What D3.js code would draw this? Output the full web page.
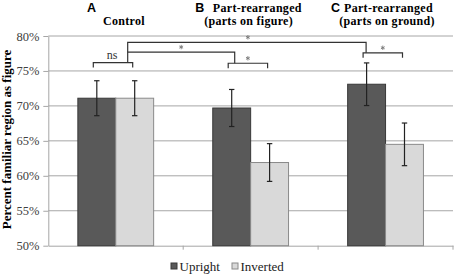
<!DOCTYPE html>
<html>
<head>
<meta charset="utf-8">
<script src="https://cdn.jsdelivr.net/npm/d3@7"></script>
<style>
  html, body { margin: 0; padding: 0; background: #fff; }
  svg { display: block; }
</style>
</head>
<body>
<svg id="chart" width="454" height="276"></svg>
<script>
// ---- Data ----
const categories = ["A", "B", "C"];
const series = ["Upright", "Inverted"];
const upright = [71.1, 69.7, 73.1];
const uprightErr = [2.5, 2.65, 3.05];
const inverted = [71.1, 61.9, 64.5];
const invertedErr = [2.5, 2.7, 3.05];
const yTicks = [50, 55, 60, 65, 70, 75, 80];
const titleLetters = ["A", "B", "C"];
const titleLine1 = ["", "Part-rearranged", "Part-rearranged"];
const titleLine2 = ["Control", "(parts on figure)", "(parts on ground)"];
const yLabel = "Percent familiar region as figure";

// ---- Layout ----
const svg = d3.select("#chart");
const mLeft = 48.3, mRight = 453, mTop = 36, mBottom = 245.7;
const SERIF = '"Liberation Serif", "Times New Roman", serif';
const SANS = '"Liberation Sans", Arial, sans-serif';

const x0 = d3.scaleBand().domain(categories).range([mLeft, mRight]).paddingInner(0).paddingOuter(0);
const x1 = d3.scaleBand().domain(series).range([0, x0.bandwidth()]).paddingInner(0).paddingOuter(0.78);
const y = d3.scaleLinear().domain([50, 80]).range([mBottom, mTop]);

const colors = { Upright: "#595959", Inverted: "#d9d9d9" };
const strokes = { Upright: "#383838", Inverted: "#8a8a8a" };

// gridlines
svg.append("g").selectAll("line").data(yTicks.filter(d => d > 50)).join("line")
  .attr("x1", mLeft).attr("x2", mRight)
  .attr("y1", d => y(d)).attr("y2", d => y(d))
  .attr("stroke", "#a6a6a6").attr("stroke-width", 1);

// y axis
const yAxis = d3.axisLeft(y).tickValues(yTicks).tickFormat(d => d + "%").tickSize(5).tickSizeOuter(0);
const gy = svg.append("g").attr("transform", `translate(${mLeft},0)`).call(yAxis);
gy.select(".domain").attr("stroke", "#a6a6a6");
gy.selectAll(".tick line").attr("stroke", "#a6a6a6");
gy.selectAll(".tick text").style("font-family", SERIF).style("font-size", "12.5px")
  .attr("fill", "#404040").attr("x", -9);

// x axis
const xAxis = d3.axisBottom(x0).tickValues([]).tickSizeOuter(0);
const gx = svg.append("g").attr("transform", `translate(0,${mBottom})`).call(xAxis);
gx.select(".domain").attr("stroke", "#a6a6a6");
svg.append("g").selectAll("line").data(categories).join("line")
  .attr("x1", d => x0(d) + x0.bandwidth()).attr("x2", d => x0(d) + x0.bandwidth())
  .attr("y1", mBottom).attr("y2", mBottom + 4)
  .attr("stroke", "#a6a6a6");

// bars
const rows = [];
categories.forEach((c, i) => {
  rows.push({ cat: c, s: "Upright", v: upright[i], e: uprightErr[i] });
  rows.push({ cat: c, s: "Inverted", v: inverted[i], e: invertedErr[i] });
});
const cx = d => x0(d.cat) + x1(d.s) + x1.bandwidth() / 2;

svg.append("g").selectAll("rect").data(rows).join("rect")
  .attr("x", d => x0(d.cat) + x1(d.s))
  .attr("y", d => y(d.v))
  .attr("width", x1.bandwidth())
  .attr("height", d => y(50) - y(d.v))
  .attr("fill", d => colors[d.s])
  .attr("stroke", d => strokes[d.s]).attr("stroke-width", 1);

// error bars
const eg = svg.append("g").attr("stroke", "#222").attr("stroke-width", 1.2);
rows.forEach(d => {
  const x = cx(d);
  eg.append("line").attr("x1", x).attr("x2", x).attr("y1", y(d.v + d.e)).attr("y2", y(d.v - d.e));
  eg.append("line").attr("x1", x - 2.7).attr("x2", x + 2.7).attr("y1", y(d.v + d.e)).attr("y2", y(d.v + d.e));
  eg.append("line").attr("x1", x - 2.7).attr("x2", x + 2.7).attr("y1", y(d.v - d.e)).attr("y2", y(d.v - d.e));
});

// significance brackets
const bg = svg.append("g").attr("stroke", "#333").attr("stroke-width", 1.2).attr("fill", "none");
const barC = (cat, s) => x0(cat) + x1(s) + x1.bandwidth() / 2;
function bracket(cat, level, tick) {
  const x1p = barC(cat, "Upright") - 3.5, x2p = barC(cat, "Inverted") - 2;
  const yy = y(level);
  bg.append("path").attr("d", `M${x1p},${yy + tick}V${yy}H${x2p}V${yy + tick}`);
  return { x1: x1p, x2: x2p, y: yy };
}
const bA = bracket("A", 76.2, 5);
const bB = bracket("B", 76.1, 5);
const bC = bracket("C", 77.6, 5);
const conA = bA.x2 - 5, conB = bB.x1 + 6.5, conC = bC.x1 + 3;
const yMid = y(77.7), yTop = y(79.1);
bg.append("path").attr("d", `M${conA},${bA.y}V${yTop}H${conC}V${bC.y}`);
bg.append("path").attr("d", `M${conA},${yMid}H${conB}V${bB.y}`);

svg.append("text").style("font-family", SERIF).style("font-size", "12px")
  .attr("fill", "#333").attr("text-anchor", "middle")
  .attr("x", (bA.x1 + bA.x2) / 2 - 1).attr("y", bA.y - 4).text("ns");

const stars = [
  [(bB.x1 + bB.x2) / 2, bB.y - 5],
  [(bC.x1 + bC.x2) / 2, bC.y - 5],
  [(conA + conB) / 2, yMid - 5],
  [(conA + conC) / 2 + 1, yTop - 5]
];
const sg = svg.append("g").attr("stroke", "#777").attr("stroke-width", 0.9);
stars.forEach(([sx, sy]) => {
  const r = 2.2;
  for (let k = 0; k < 3; k++) {
    const a = Math.PI / 2 + k * Math.PI / 3;
    sg.append("line")
      .attr("x1", sx + r * Math.cos(a)).attr("y1", sy + r * Math.sin(a))
      .attr("x2", sx - r * Math.cos(a)).attr("y2", sy - r * Math.sin(a));
  }
});

// titles
const tg = svg.append("g").attr("fill", "#000");
const letterDx = [-28.8, -55.5, -54.5];
const line1Dx = [0, -37.8, -41.5];
const line2Dx = [-12.8, -46.5, -46.3];
categories.forEach((c, i) => {
  const cxC = x0(c) + x0.bandwidth() / 2;
  tg.append("text").attr("x", cxC + letterDx[i]).attr("y", 12)
    .style("font-family", SANS).style("font-weight", "bold").style("font-size", "12.5px")
    .text(titleLetters[i]);
  if (titleLine1[i]) {
    tg.append("text").attr("x", cxC + line1Dx[i]).attr("y", 11.6)
      .style("font-family", SERIF).style("font-weight", "bold").style("font-size", "12px")
      .style("letter-spacing", "0.3px").text(titleLine1[i]);
  }
  tg.append("text").attr("x", cxC + line2Dx[i]).attr("y", 24.9)
    .style("font-family", SERIF).style("font-weight", "bold").style("font-size", "12px")
    .style("letter-spacing", "0.3px").text(titleLine2[i]);
});

// y label
svg.append("text")
  .attr("transform", "rotate(-90)")
  .attr("x", -139.5).attr("y", 10.8)
  .attr("text-anchor", "middle")
  .style("font-family", SERIF).style("font-weight", "bold").style("font-size", "13px")
  .attr("fill", "#000").text(yLabel);

// legend
const lg = svg.append("g");
const legX = [171, 232];
series.forEach((s, i) => {
  lg.append("rect").attr("x", legX[i]).attr("y", 263).attr("width", 6).attr("height", 6)
    .attr("fill", colors[s]).attr("stroke", strokes[s]).attr("stroke-width", 1);
  lg.append("text").attr("x", legX[i] + 8.5).attr("y", 270.5)
    .style("font-family", SERIF).style("font-size", "13px").attr("fill", "#222").text(s);
});
</script>
</body>
</html>
